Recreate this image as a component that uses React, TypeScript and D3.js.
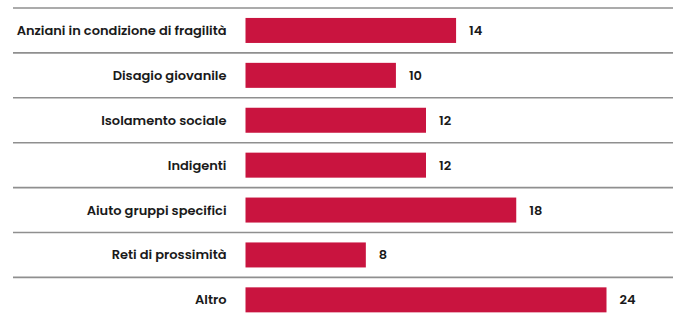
import React from "react";
import * as d3 from "d3";

const categories = [
  "Anziani in condizione di fragilità",
  "Disagio giovanile",
  "Isolamento sociale",
  "Indigenti",
  "Aiuto gruppi specifici",
  "Reti di prossimità",
  "Altro",
];
const values = [14, 10, 12, 12, 18, 8, 24];

const W = 673;
const H = 317;

export default function App() {
  const x = d3.scaleLinear().domain([0, 24]).range([245.5, 606.5]);
  const y = d3
    .scaleBand<string>()
    .domain(categories)
    .range([8, 8 + 44.9 * categories.length])
    .paddingInner(0.443)
    .paddingOuter(0.2215);
  const step = y.step();
  const font = "Poppins, Inter, 'Noto Sans', sans-serif";
  return (
    <svg
      width={W}
      height={H}
      style={{ position: "absolute", left: 0, top: 0, background: "#fff" }}
    >
      {categories.map((c, i) => {
        const top = 8 + i * step;
        return (
          <line
            key={"l" + c}
            x1={13}
            x2={W}
            y1={top}
            y2={top}
            stroke="#8f8f8f"
            strokeWidth={1.6}
          />
        );
      })}
      {categories.map((c, i) => {
        const yy = y(c)!;
        const bh = y.bandwidth();
        const cy = yy + bh / 2;
        return (
          <g key={c}>
            <rect
              x={x(0)}
              y={yy}
              width={x(values[i]) - x(0)}
              height={bh}
              fill="#C9143F"
            />
            <text
              x={226.5}
              y={cy}
              textAnchor="end"
              dominantBaseline="central"
              fontFamily={font}
              fontSize={13}
              fontWeight={600}
              fill="#1a1a1a"
            >
              {c}
            </text>
            <text
              x={x(values[i]) + 13}
              y={cy}
              textAnchor="start"
              dominantBaseline="central"
              fontFamily={font}
              fontSize={13}
              fontWeight={600}
              fill="#1a1a1a"
            >
              {values[i]}
            </text>
          </g>
        );
      })}
    </svg>
  );
}
